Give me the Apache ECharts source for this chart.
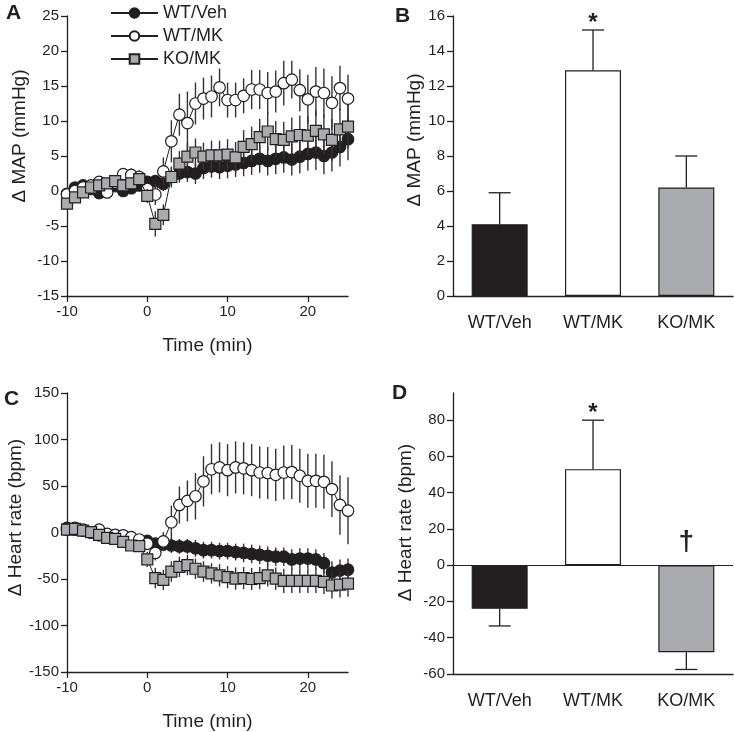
<!DOCTYPE html>
<html>
<head>
<meta charset="utf-8">
<script src="https://cdn.jsdelivr.net/npm/echarts@6/dist/echarts.min.js"></script>
<style>html,body{margin:0;padding:0;background:#fff}#c{width:735px;height:732px}</style>
</head>
<body>
<div id="c"></div>
<script>
// ---------- data ----------
const groups = ['WT/Veh', 'WT/MK', 'KO/MK'];
const minutes = [-10,-9,-8,-7,-6,-5,-4,-3,-2,-1,0,1,2,3,4,5,6,7,8,9,10,11,12,13,14,15,16,17,18,19,20,21,22,23,24,25];

// Panel A: delta MAP (mmHg) time course
const mapVeh   = [-0.4,0.5,0.8,0.3,-0.3,0.3,0.7,0.0,0.4,0.8,1.3,1.4,1.0,2.0,2.5,2.7,2.5,3.3,3.5,3.4,3.6,3.8,4.0,4.3,4.6,4.3,4.6,4.8,4.5,4.9,5.3,5.5,5.0,5.5,6.3,7.4];
const mapVehErr= [0.4,0.4,0.5,0.5,0.5,0.5,0.6,0.6,0.6,0.7,0.8,0.9,1.0,1.2,1.3,1.4,1.5,1.6,1.6,1.7,1.8,1.8,1.9,2.0,2.0,2.1,2.2,2.2,2.3,2.4,2.4,2.5,2.6,2.7,2.8,3.0];
const mapWtMk  = [-0.5,0.0,0.5,0.8,1.3,-0.2,1.2,2.4,2.3,2.0,0.3,-0.5,2.8,7.1,10.9,9.7,12.5,13.2,13.5,14.8,13.0,13.0,13.6,14.5,14.5,14.0,14.2,15.4,15.9,14.4,13.1,14.2,14.0,12.6,14.7,13.2];
const mapWtMkErr=[0.6,0.6,0.7,0.7,0.8,0.8,0.8,0.9,0.9,1.0,1.0,1.5,2.0,3.0,3.0,4.5,3.0,3.0,3.0,2.7,2.5,2.5,2.5,2.8,2.8,3.0,3.0,3.2,2.7,3.0,3.5,3.5,3.5,3.8,3.2,3.4];
const mapKoMk  = [-1.8,-0.9,-0.2,0.5,0.8,1.1,1.4,0.8,1.1,1.7,-0.7,-4.7,-3.4,2.0,3.9,4.9,5.5,4.9,5.1,5.1,5.2,4.8,6.3,6.7,7.7,8.5,7.4,7.3,7.8,8.0,7.9,8.6,8.1,7.3,8.8,9.2];
const mapKoMkErr=[0.5,0.5,0.5,0.6,0.6,0.6,0.6,0.7,0.7,0.8,1.0,1.8,1.5,1.5,1.8,2.0,2.0,2.0,2.1,2.1,2.2,2.2,2.4,2.5,2.6,2.8,2.6,2.6,2.7,2.8,2.8,2.9,2.9,3.0,3.0,3.1];

// Panel C: delta heart rate (bpm) time course
const hrVeh    = [5,3,2,0,-3,-5,-6,-7,-8,-9,-9,-12,-13,-14,-15,-15,-17,-19,-19,-20,-20,-21,-22,-23,-24,-25,-26,-26,-29,-28,-28,-29,-33,-43,-41,-40];
const hrVehErr = [3,3,3,3,3,3,3,3,3,3,4,6,7,8,8,8,9,9,9,9,9,9,10,10,10,10,10,10,11,11,11,11,11,12,12,12];
const hrWtMk   = [3,5,3,0,3,-1.5,-2.5,-3,-5,-7.5,-12,-22,-9.6,11,29.6,34,39,55,68,70,67,70,69,67,64.5,64,62,64.5,65,61,55.6,55.6,54.5,46.7,29.6,23.5];
const hrWtMkErr= [4,4,4,4,4,4,4,4,4,4,6,8,10,18,20,22,25,27,27,27,28,28,28,28,28,28,28,29,29,29,29,29,29,30,32,36];
const hrKoMk   = [3,4,2,0.3,-2.5,-5.7,-6.8,-10,-14,-14.6,-29,-49,-51,-42,-37,-35,-39,-42,-44,-46,-48,-49.5,-49,-50,-49,-46,-49.5,-52,-52,-52,-52,-52,-53,-57,-56,-55];
const hrKoMkErr= [3,3,3,3,3,3,3,3,3,4,8,11,11,11,11,11,11,11,11,12,12,12,12,12,12,12,12,13,13,13,13,13,13,14,14,14];

// Panel B: mean delta MAP
const mapMean = [4.1, 12.9, 6.2];
const mapErr  = [1.8, 2.3, 1.8];
const mapNotes = ['', '*', ''];

// Panel D: mean delta heart rate
const hrMean = [-24, 53, -48];
const hrErr  = [9.5, 27, 9.5];
const hrNotes = ['', '*', '\u2020'];

// Tick labels
const timeTicks = [-10, 0, 10, 20];
const hrBarTicks = [-60, -40, -20, 0, 20, 40, 60, 80];

// ---------- styles ----------
const FONT = '"Liberation Sans", Arial, Helvetica, sans-serif';
const INK = '#231f20';
const GREY = '#a9abae';
const colors = [INK, '#ffffff', GREY];
const symbols = ['circle', 'circle', 'rect'];

function zip3(a, b, c) { return a.map((v, i) => [a[i], b[i], c[i]]); }
function zip2(a, b) { return a.map((v, i) => [a[i], b[i]]); }

function tsErrRender(params, api) {
  const x = api.value(0), m = api.value(1), e = api.value(2);
  const p1 = api.coord([x, m - e]);
  const p2 = api.coord([x, m + e]);
  return { type: 'line', shape: { x1: p1[0], y1: p1[1], x2: p2[0], y2: p2[1] },
           style: { stroke: '#333', lineWidth: 1.4 } };
}

function barErrRender(notes) {
  return function (params, api) {
    const i = api.value(0), m = api.value(1), e = api.value(2);
    const dir = m >= 0 ? 1 : -1;
    const p0 = api.coord([i, m]);
    const p1 = api.coord([i, m + dir * e]);
    const hw = 11;
    const ls = { stroke: INK, lineWidth: 1.3 };
    const ch = [
      { type: 'line', shape: { x1: p0[0], y1: p0[1], x2: p1[0], y2: p1[1] }, style: ls },
      { type: 'line', shape: { x1: p1[0] - hw, y1: p1[1], x2: p1[0] + hw, y2: p1[1] }, style: ls }
    ];
    const note = notes[i];
    if (note) {
      const top = Math.max(m + dir * e, 0);
      const pt = api.coord([i, top]);
      const star = note === '*';
      ch.push({ type: 'text', x: pt[0], y: pt[1] - (star ? 7 : 23),
        style: { text: note, fill: INK, align: 'center', verticalAlign: 'middle',
                 font: 'bold ' + (star ? 24 : 28) + 'px ' + FONT } });
    }
    return { type: 'group', children: ch };
  };
}

const axisLineStyle = { show: true, onZero: false, lineStyle: { color: INK, width: 1.3 } };
const tickStyle = { show: true, inside: false, length: 6, lineStyle: { color: INK, width: 1.3 } };
const labelStyle = { color: INK, fontFamily: FONT, fontSize: 15 };
const nameStyle = { color: INK, fontFamily: FONT, fontSize: 19 };
function nameShift(d) { return Object.assign({ padding: [0, 0, 0, 2 * d] }, nameStyle); }

function timeXAxis(gi) {
  return { type: 'value', gridIndex: gi, min: -10, max: 25,
    name: 'Time (min)', nameLocation: 'middle', nameGap: 40, nameTextStyle: nameStyle,
    axisLine: axisLineStyle,
    axisTick: Object.assign({ customValues: timeTicks }, tickStyle),
    axisLabel: Object.assign({ customValues: timeTicks, margin: 8 }, labelStyle),
    splitLine: { show: false } };
}
function catXAxis(gi) {
  return { type: 'category', gridIndex: gi, data: groups, boundaryGap: true,
    axisLine: axisLineStyle,
    axisTick: { show: false },
    axisLabel: Object.assign({}, labelStyle, { fontSize: 18, margin: 18 }),
    splitLine: { show: false } };
}
function valYAxis(gi, opt) {
  return Object.assign({ type: 'value', gridIndex: gi, nameLocation: 'middle',
    nameTextStyle: nameStyle,
    axisLine: axisLineStyle, axisTick: tickStyle,
    axisLabel: Object.assign({ margin: 8 }, labelStyle),
    splitLine: { show: false } }, opt);
}

const series = [];
function addTimeSeries(xi, yi, means, errs) {
  means.forEach((m, k) => {
    series.push({ type: 'custom', xAxisIndex: xi, yAxisIndex: yi, z: 2 + k * 2,
      renderItem: tsErrRender, data: zip3(minutes, m, errs[k]), silent: true,
      encode: { x: 0, y: 1 } });
    series.push({ type: 'line', name: groups[k], xAxisIndex: xi, yAxisIndex: yi, z: 3 + k * 2,
      data: zip2(minutes, m), symbol: symbols[k], symbolSize: k === 2 ? 11 : 11.5,
      lineStyle: { color: INK, width: 1 },
      itemStyle: { color: colors[k], borderColor: INK, borderWidth: 1.2, opacity: 1 },
      showAllSymbol: true, animation: false });
  });
}
addTimeSeries(0, 0, [mapVeh, mapWtMk, mapKoMk], [mapVehErr, mapWtMkErr, mapKoMkErr]);
addTimeSeries(1, 1, [hrVeh, hrWtMk, hrKoMk], [hrVehErr, hrWtMkErr, hrKoMkErr]);

function addBars(xi, yi, means, errs, notes, zeroLine) {
  const s = { type: 'bar', xAxisIndex: xi, yAxisIndex: yi, barWidth: '60%', z: 2,
    data: means.map((v, i) => ({ value: v, itemStyle: { color: colors[i], borderColor: INK, borderWidth: 1.2 } })),
    animation: false };
  if (zeroLine) {
    s.markLine = { silent: true, symbol: 'none', label: { show: false },
      lineStyle: { color: INK, type: 'solid', width: 1.2 }, data: [{ yAxis: 0 }], animation: false };
  }
  series.push(s);
  series.push({ type: 'custom', xAxisIndex: xi, yAxisIndex: yi, z: 3, silent: true,
    renderItem: barErrRender(notes), data: means.map((v, i) => [i, v, errs[i]]),
    encode: { x: 0, y: 1 } });
}
addBars(2, 2, mapMean, mapErr, mapNotes, false);
addBars(3, 3, hrMean, hrErr, hrNotes, true);

const letterStyle = { font: 'bold 21px ' + FONT, fill: INK };

const option = {
  animation: false,
  backgroundColor: '#fff',
  grid: [
    { left: 67, top: 16, width: 281, height: 280 },
    { left: 67, top: 393, width: 281, height: 281 },
    { left: 453, top: 16, width: 280, height: 280 },
    { left: 453, top: 393, width: 280, height: 281 }
  ],
  legend: {
    data: groups, orient: 'vertical', left: 105, top: -1,
    itemWidth: 47, itemHeight: 12, itemGap: 5,
    textStyle: { color: INK, fontFamily: FONT, fontSize: 18 },
    selectedMode: false
  },
  xAxis: [timeXAxis(0), timeXAxis(1), catXAxis(2), catXAxis(3)],
  yAxis: [
    valYAxis(0, { min: -15, max: 25, interval: 5, name: '\u0394 MAP (mmHg)', nameGap: 38, nameTextStyle: nameShift(20) }),
    valYAxis(1, { min: -150, max: 150, interval: 50, name: '\u0394 Heart rate (bpm)', nameGap: 42, nameTextStyle: nameShift(15) }),
    valYAxis(2, { min: 0, max: 16, interval: 2, name: '\u0394 MAP (mmHg)', nameGap: 28, nameTextStyle: nameShift(16) }),
    valYAxis(3, { min: -60, max: 95, name: '\u0394 Heart rate (bpm)', nameGap: 38, nameTextStyle: nameShift(11),
      axisTick: Object.assign({ customValues: hrBarTicks }, tickStyle),
      axisLabel: Object.assign({ customValues: hrBarTicks, margin: 8 }, labelStyle) })
  ],
  graphic: [
    { type: 'text', left: 6, top: 3, style: Object.assign({ text: 'A' }, letterStyle) },
    { type: 'text', left: 395, top: 6, style: Object.assign({ text: 'B' }, letterStyle) },
    { type: 'text', left: 4, top: 389, style: Object.assign({ text: 'C' }, letterStyle) },
    { type: 'text', left: 392, top: 383, style: Object.assign({ text: 'D' }, letterStyle) }
  ],
  series: series
};

const chart = echarts.init(document.getElementById('c'), null, { renderer: 'canvas' });
chart.setOption(option);
</script>
</body>
</html>
